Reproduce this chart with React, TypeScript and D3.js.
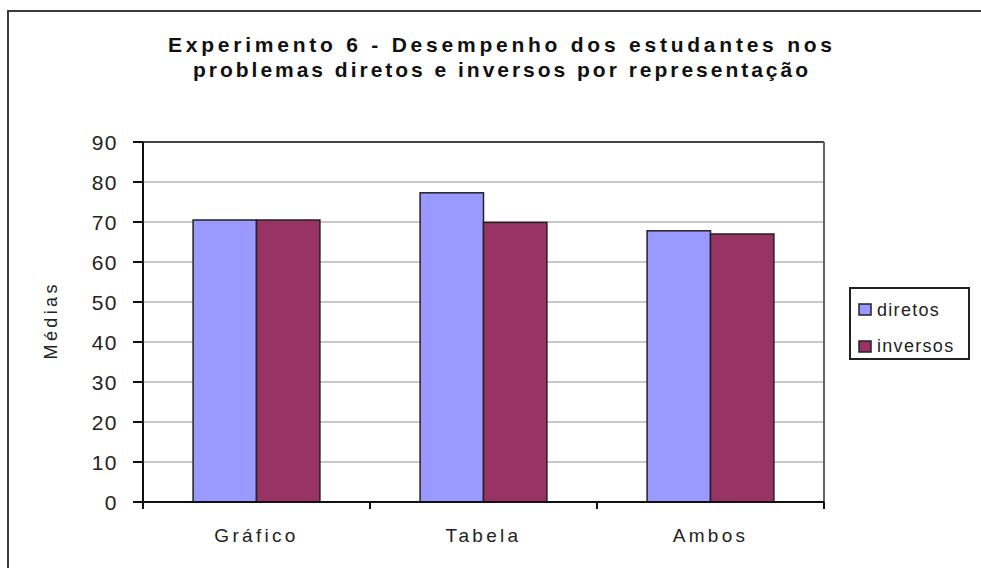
import React from "react";
import * as d3 from "d3";

const categories = ["Gráfico", "Tabela", "Ambos"];
const seriesNames = ["diretos", "inversos"];
const diretos = [70.5, 77.3, 67.8];
const inversos = [70.5, 69.9, 67.0];
const yTicks = [0, 10, 20, 30, 40, 50, 60, 70, 80, 90];
const titleLines = [
  "Experimento 6 - Desempenho dos estudantes nos",
  "problemas diretos e inversos  por representação",
];
const yLabel = "Médias";

const colors = ["#9999FF", "#993366"];

export default function App() {
  const W = 981, H = 568;
  const left = 143, right = 824, top = 142, bottom = 502;
  const y = d3.scaleLinear().domain([0, 90]).range([bottom, top]);
  const x0 = d3.scaleBand<string>().domain(categories).range([left, right]).padding(0);
  const x1 = d3.scaleBand<string>().domain(seriesNames).range([0, x0.bandwidth()]).paddingInner(0).paddingOuter(0.79);
  const values = [diretos, inversos];
  const font = "'Liberation Sans', Arial, sans-serif";
  const boundaries = [...categories.map((c) => x0(c) as number), right];

  return (
    <svg width={W} height={H} style={{ position: "absolute", left: 0, top: 0, display: "block", background: "#fff" }}>
      <rect x={0} y={0} width={W} height={H} fill="#fff" />
      <rect x={8} y={11} width={1100} height={700} fill="none" stroke="#3a3a3a" strokeWidth={2} />
      {/* title */}
      {titleLines.map((t, i) => (
        <text key={i} x={i === 0 ? 168 : 193} y={i === 0 ? 52 : 77} fontFamily={font} fontWeight="bold" fontSize={21}
          textLength={i === 0 ? 664 : 615} lengthAdjust="spacing" fill="#111">{t}</text>
      ))}
      {/* gridlines */}
      {yTicks.filter((t) => t > 0 && t < 90).map((t) => (
        <line key={t} x1={left} x2={right} y1={y(t)} y2={y(t)} stroke="#c8c8c8" strokeWidth={2} />
      ))}
      {/* plot border top/right */}
      <line x1={left} x2={right} y1={y(90)} y2={y(90)} stroke="#444" strokeWidth={2} />
      <line x1={right} x2={right} y1={top} y2={bottom} stroke="#666" strokeWidth={2} />
      {/* bars */}
      {categories.map((c, ci) => (
        <g key={c} transform={`translate(${x0(c)},0)`}>
          {seriesNames.map((s, si) => (
            <rect key={s} x={x1(s)} y={y(values[si][ci])} width={x1.bandwidth()} height={bottom - y(values[si][ci])}
              fill={colors[si]} stroke="#222" strokeWidth={1.5} />
          ))}
        </g>
      ))}
      {/* axes */}
      <line x1={left} x2={left} y1={top} y2={bottom} stroke="#111" strokeWidth={2} />
      <line x1={left} x2={right} y1={bottom} y2={bottom} stroke="#111" strokeWidth={2} />
      {yTicks.map((t) => (
        <g key={t}>
          <line x1={left - 10} x2={left} y1={y(t)} y2={y(t)} stroke="#111" strokeWidth={2} />
          <text x={118} y={y(t)} textAnchor="end" dominantBaseline="central" fontFamily={font} fontSize={21}
            letterSpacing={1.5} fill="#222">{t}</text>
        </g>
      ))}
      {boundaries.map((b, i) => (
        <line key={i} x1={b} x2={b} y1={bottom} y2={bottom + 7} stroke="#111" strokeWidth={2} />
      ))}
      {categories.map((c) => (
        <text key={c} x={(x0(c) as number) + x0.bandwidth() / 2} y={542} textAnchor="middle" fontFamily={font}
          fontSize={19} letterSpacing={3.3} fill="#222">{c}</text>
      ))}
      <text transform={`translate(51,${322}) rotate(-90)`} textAnchor="middle" dominantBaseline="central"
        fontFamily={font} fontSize={18} textLength={75} lengthAdjust="spacing" fill="#222">{yLabel}</text>
      {/* legend */}
      <rect x={850} y={288} width={119} height={71} fill="#fff" stroke="#222" strokeWidth={2} />
      {seriesNames.map((s, i) => (
        <g key={s}>
          <rect x={859} y={i === 0 ? 304 : 341} width={12} height={11} fill={colors[i]} stroke="#222" strokeWidth={1.5} />
          <text x={877} y={i === 0 ? 316 : 352} fontFamily={font} fontSize={18} letterSpacing={1.3} fill="#222">{s}</text>
        </g>
      ))}
    </svg>
  );
}
